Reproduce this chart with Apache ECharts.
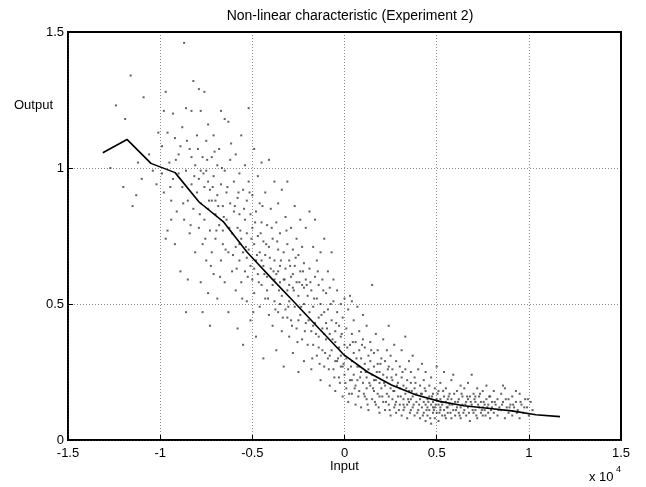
<!DOCTYPE html>
<html><head><meta charset="utf-8">
<script src="https://cdn.jsdelivr.net/npm/echarts@6/dist/echarts.min.js"></script>
<style>html,body{margin:0;padding:0;background:#fff}#c{width:646px;height:487px}</style>
</head><body><div id="c"></div>
<script>
// Axis ticks (x in units of 10^4)
var xTicks = [-1.5, -1, -0.5, 0, 0.5, 1, 1.5];
var yTicks = [0, 0.5, 1, 1.5];

// Non-linear characteristic curve (solid line)
var curveX = [-1.311,-1.180,-1.050,-0.919,-0.789,-0.658,-0.528,-0.397,-0.267,-0.136,-0.006,0.125,0.255,0.386,0.516,0.647,0.777,0.908,1.038,1.169];
var curveY = [1.056,1.105,1.017,0.983,0.875,0.803,0.690,0.595,0.503,0.408,0.315,0.250,0.202,0.166,0.142,0.126,0.117,0.107,0.093,0.086];

var samplesFarLeft = [[-1.24,1.23],[-1.16,1.34],[-1.19,1.18],[-1.09,1.26],[-1.2,0.93],[-1.13,0.9],[-1.15,0.86],[-1.10,0.96],[-1.02,0.94],[-1.06,1.05],[-1.01,1.13],[-1.04,0.99],[-1.27,1.0],[-1.12,1.02]];
var samplesLeft = [[-0.99,1.08],[-0.98,0.91],[-0.97,1.28],[-0.98,1.21],[-0.96,0.77],[-0.95,1.02],[-0.94,0.88],[-0.93,1.20],[-0.93,0.96],[-0.92,1.11],[-0.92,0.72],[-0.91,0.84],[-0.90,1.05],[-0.90,0.98],[-0.89,0.62],[-0.88,0.93],[-0.88,1.15],[-0.87,0.81],[-0.87,1.46],[-0.86,1.22],[-0.86,0.99],[-0.85,0.88],[-0.85,0.59],[-0.84,1.07],[-0.84,0.76],[-0.83,1.21],[-0.83,0.94],[-0.82,1.32],[-0.82,0.85],[-0.81,1.01],[-0.81,0.69],[-0.80,0.91],[-0.80,1.12],[-0.99,0.98],[-0.96,1.13],[-0.94,0.81],[-0.89,1.08],[-0.86,0.47],[-0.83,1.04],[-0.97,0.74],
[-0.79,1.29],[-0.79,0.78],[-0.79,0.96],[-0.78,1.21],[-0.78,0.58],[-0.78,0.87],[-0.77,1.04],[-0.77,0.72],[-0.77,0.47],[-0.76,0.93],[-0.76,1.28],[-0.76,0.81],[-0.75,1.10],[-0.75,0.66],[-0.75,0.99],[-0.74,0.85],[-0.74,1.16],[-0.74,0.54],[-0.73,0.92],[-0.73,0.77],[-0.73,0.42],[-0.72,1.04],[-0.72,0.69],[-0.72,0.88],[-0.71,0.97],[-0.71,0.61],[-0.71,1.12],[-0.70,0.83],[-0.70,0.74],[-0.69,1.01],[-0.69,0.90],[-0.69,0.52],[-0.68,0.79],[-0.68,1.07],[-0.67,1.21],[-0.67,0.66],[-0.67,0.94],[-0.66,0.86],[-0.66,0.72],[-0.65,1.18],[-0.65,0.58],[-0.65,0.99],[-0.64,0.81],[-0.64,0.91],[-0.63,1.17],[-0.63,0.69],[-0.63,0.47],[-0.62,0.87],[-0.62,1.03],[-0.61,0.76],[-0.61,0.62],[-0.60,0.95],[-0.60,0.84],[-0.78,0.99],[-0.74,0.95],[-0.70,0.88],[-0.66,0.77]];
var samplesMidLeft = [[-0.59,0.71],[-0.59,1.05],[-0.59,0.55],[-0.58,0.89],[-0.58,0.78],[-0.58,0.41],[-0.57,0.98],[-0.57,0.66],[-0.57,0.83],[-0.56,1.12],[-0.56,0.74],[-0.56,0.58],[-0.55,0.92],[-0.55,0.69],[-0.55,0.35],[-0.54,0.81],[-0.54,1.01],[-0.54,0.62],[-0.53,0.76],[-0.53,0.88],[-0.53,0.51],[-0.52,1.22],[-0.52,0.70],[-0.52,0.95],[-0.51,0.64],[-0.51,0.83],[-0.51,0.44],[-0.50,0.78],[-0.50,0.59],[-0.50,0.90],[-0.49,1.07],[-0.49,0.72],[-0.49,0.54],[-0.48,0.84],[-0.48,0.66],[-0.48,0.38],[-0.47,0.97],[-0.47,0.61],[-0.47,0.75],[-0.46,0.87],[-0.46,0.49],[-0.46,0.69],[-0.45,0.80],[-0.45,0.57],[-0.45,1.02],[-0.44,0.64],[-0.44,0.73],[-0.44,0.30],[-0.43,0.91],[-0.43,0.52],[-0.43,0.68],[-0.42,0.79],[-0.42,0.60],[-0.41,1.03],[-0.41,0.46],[-0.41,0.71],[-0.40,0.85],[-0.40,0.63],[-0.57,0.72],[-0.53,0.67],[-0.49,0.63],[-0.45,0.66],[-0.42,0.55],
[-0.39,0.57],[-0.39,0.74],[-0.39,0.42],[-0.38,0.95],[-0.38,0.66],[-0.38,0.51],[-0.37,0.80],[-0.37,0.61],[-0.37,0.33],[-0.36,0.70],[-0.36,0.87],[-0.36,0.47],[-0.35,0.58],[-0.35,0.76],[-0.35,0.64],[-0.34,0.40],[-0.34,0.92],[-0.34,0.53],[-0.33,0.69],[-0.33,0.59],[-0.33,0.27],[-0.32,0.82],[-0.32,0.48],[-0.32,0.63],[-0.31,0.72],[-0.31,0.55],[-0.31,0.95],[-0.30,0.38],[-0.30,0.66],[-0.30,0.51],[-0.29,0.78],[-0.29,0.60],[-0.29,0.44],[-0.28,0.70],[-0.28,0.32],[-0.28,0.56],[-0.27,0.86],[-0.27,0.49],[-0.27,0.64],[-0.26,0.58],[-0.26,0.74],[-0.26,0.41],[-0.25,0.53],[-0.25,0.68],[-0.25,0.25],[-0.24,0.62],[-0.24,0.46],[-0.24,0.81],[-0.23,0.37],[-0.23,0.57],[-0.23,0.71],[-0.22,0.50],[-0.22,0.65],[-0.22,0.29],[-0.21,0.43],[-0.21,0.59],[-0.21,0.78],[-0.20,0.53],[-0.20,0.35],[-0.38,0.59],[-0.35,0.50],[-0.31,0.45],[-0.28,0.61],[-0.25,0.44],[-0.22,0.56],[-0.36,0.62],[-0.30,0.57]];
var samplesCenter = [[-0.19,0.63],[-0.19,0.47],[-0.19,0.84],[-0.18,0.40],[-0.18,0.55],[-0.18,0.26],[-0.17,0.71],[-0.17,0.49],[-0.17,0.35],[-0.16,0.60],[-0.16,0.43],[-0.16,0.81],[-0.15,0.52],[-0.15,0.31],[-0.15,0.66],[-0.14,0.45],[-0.14,0.38],[-0.14,0.57],[-0.13,0.22],[-0.13,0.50],[-0.13,0.69],[-0.12,0.41],[-0.12,0.33],[-0.12,0.59],[-0.11,0.47],[-0.11,0.27],[-0.11,0.74],[-0.10,0.37],[-0.10,0.54],[-0.10,0.43],[-0.09,0.62],[-0.09,0.30],[-0.09,0.48],[-0.08,0.39],[-0.08,0.20],[-0.08,0.56],[-0.07,0.44],[-0.07,0.69],[-0.07,0.33],[-0.06,0.51],[-0.06,0.26],[-0.06,0.59],[-0.05,0.40],[-0.05,0.36],[-0.05,0.18],[-0.04,0.47],[-0.04,0.29],[-0.04,0.55],[-0.03,0.34],[-0.03,0.42],[-0.03,0.23],[-0.02,0.50],[-0.02,0.31],[-0.02,0.38],[-0.01,0.27],[-0.01,0.45],[-0.01,0.16],[0.00,0.35],[0.00,0.52],[0.00,0.24],[-0.17,0.42],[-0.14,0.34],[-0.11,0.39],[-0.08,0.31],[-0.05,0.29],[-0.02,0.27],
[0.01,0.30],[0.01,0.41],[0.01,0.19],[0.02,0.48],[0.02,0.26],[0.02,0.14],[0.03,0.35],[0.03,0.22],[0.03,0.53],[0.04,0.29],[0.04,0.39],[0.04,0.17],[0.05,0.24],[0.05,0.44],[0.05,0.32],[0.06,0.20],[0.06,0.36],[0.06,0.13],[0.07,0.27],[0.07,0.49],[0.07,0.22],[0.08,0.33],[0.08,0.18],[0.08,0.40],[0.09,0.25],[0.09,0.30],[0.09,0.12],[0.10,0.21],[0.10,0.37],[0.10,0.46],[0.11,0.28],[0.11,0.16],[0.11,0.34],[0.12,0.23],[0.12,0.42],[0.12,0.19],[0.13,0.31],[0.13,0.26],[0.13,0.11],[0.14,0.36],[0.14,0.20],[0.14,0.29],[0.15,0.15],[0.15,0.24],[0.15,0.57],[0.16,0.32],[0.16,0.18],[0.16,0.27],[0.17,0.22],[0.17,0.39],[0.17,0.13],[0.18,0.28],[0.18,0.17],[0.18,0.33],[0.19,0.21],[0.19,0.25],[0.19,0.10],[0.20,0.30],[0.20,0.19],[0.04,0.22],[0.08,0.27],[0.12,0.15],[0.16,0.22],[0.19,0.16],[0.04,0.51]];
var samplesMidRight = [[0.21,0.14],[0.21,0.24],[0.21,0.37],[0.22,0.20],[0.22,0.29],[0.22,0.11],[0.23,0.17],[0.23,0.33],[0.23,0.23],[0.24,0.13],[0.24,0.27],[0.24,0.42],[0.25,0.19],[0.25,0.09],[0.25,0.31],[0.26,0.22],[0.26,0.15],[0.26,0.26],[0.27,0.12],[0.27,0.35],[0.27,0.18],[0.28,0.24],[0.28,0.10],[0.28,0.29],[0.29,0.16],[0.29,0.21],[0.30,0.13],[0.30,0.27],[0.30,0.19],[0.31,0.09],[0.31,0.23],[0.31,0.33],[0.32,0.15],[0.32,0.20],[0.32,0.11],[0.33,0.26],[0.33,0.17],[0.33,0.38],[0.34,0.13],[0.34,0.22],[0.34,0.08],[0.35,0.18],[0.35,0.29],[0.35,0.14],[0.36,0.21],[0.36,0.11],[0.36,0.25],[0.37,0.16],[0.37,0.12],[0.37,0.31],[0.38,0.19],[0.38,0.09],[0.38,0.23],[0.39,0.14],[0.39,0.17],[0.40,0.11],[0.40,0.26],[0.24,0.16],[0.28,0.14],[0.32,0.13],[0.36,0.15],
[0.41,0.15],[0.41,0.20],[0.41,0.08],[0.42,0.12],[0.42,0.28],[0.42,0.17],[0.43,0.10],[0.43,0.22],[0.43,0.14],[0.44,0.07],[0.44,0.18],[0.44,0.25],[0.45,0.12],[0.45,0.15],[0.45,0.09],[0.46,0.20],[0.46,0.11],[0.46,0.16],[0.47,0.13],[0.47,0.06],[0.47,0.23],[0.48,0.17],[0.48,0.10],[0.48,0.14],[0.49,0.08],[0.49,0.19],[0.49,0.12],[0.50,0.15],[0.50,0.27],[0.50,0.10],[0.51,0.13],[0.51,0.07],[0.51,0.18],[0.52,0.11],[0.52,0.21],[0.52,0.15],[0.53,0.09],[0.53,0.13],[0.54,0.16],[0.54,0.25],[0.54,0.11],[0.55,0.08],[0.55,0.14],[0.55,0.19],[0.56,0.12],[0.56,0.10],[0.57,0.17],[0.57,0.13],[0.58,0.08],[0.58,0.22],[0.58,0.15],[0.59,0.11],[0.59,0.24],[0.60,0.14],[0.60,0.09],[0.44,0.13],[0.48,0.12],[0.52,0.12],[0.56,0.15]];
var samplesRight = [[0.61,0.18],[0.61,0.12],[0.62,0.10],[0.62,0.15],[0.63,0.20],[0.63,0.08],[0.64,0.13],[0.64,0.16],[0.65,0.11],[0.65,0.19],[0.66,0.09],[0.66,0.14],[0.67,0.12],[0.67,0.21],[0.68,0.16],[0.68,0.07],[0.69,0.13],[0.69,0.24],[0.70,0.10],[0.70,0.17],[0.71,0.14],[0.71,0.11],[0.72,0.19],[0.72,0.08],[0.73,0.12],[0.73,0.16],[0.74,0.10],[0.74,0.14],[0.75,0.18],[0.75,0.09],[0.76,0.13],[0.76,0.11],[0.77,0.15],[0.77,0.20],[0.78,0.10],[0.78,0.13],[0.79,0.08],[0.79,0.16],[0.80,0.12],[0.80,0.14],[0.63,0.12],[0.67,0.15],[0.71,0.16],[0.75,0.12],
[0.81,0.18],[0.81,0.10],[0.82,0.13],[0.83,0.15],[0.83,0.09],[0.84,0.12],[0.85,0.17],[0.85,0.11],[0.86,0.14],[0.87,0.08],[0.87,0.19],[0.88,0.12],[0.89,0.15],[0.89,0.10],[0.90,0.13],[0.91,0.16],[0.91,0.09],[0.92,0.12],[0.93,0.14],[0.94,0.11],[0.95,0.17],[0.95,0.08],[0.96,0.13],[0.97,0.10],[0.98,0.15],[0.99,0.12],[1.00,0.09],[1.01,0.14],[1.02,0.11],[0.86,0.20],[0.93,0.18]];
var samplesDense = [[-0.945,0.93],[-0.915,1.03],[-0.875,0.87],[-0.855,1.10],[-0.835,0.79],[-0.815,0.97],[-0.795,1.07],[-0.785,0.83],[-0.765,0.98],[-0.755,0.74],[-0.745,1.03],[-0.735,0.88],[-0.725,0.64],[-0.715,0.93],[-0.705,1.06],[-0.695,0.77],[-0.685,0.86],[-0.675,0.60],[-0.665,1.00],[-0.655,0.82],[-0.645,0.70],[-0.635,0.93],[-0.625,0.78],[-0.615,1.09],[-0.605,0.68],
[-0.595,0.86],[-0.585,0.63],[-0.575,0.91],[-0.565,0.77],[-0.555,0.52],[-0.545,0.85],[-0.535,0.71],[-0.525,0.60],[-0.515,0.91],[-0.505,0.74],[-0.495,0.47],[-0.485,0.80],[-0.475,0.68],[-0.465,0.58],[-0.455,0.76],[-0.445,0.86],[-0.435,0.61],[-0.425,0.72],[-0.415,0.52],[-0.405,0.67],[-0.395,0.78],[-0.385,0.62],[-0.375,0.48],[-0.365,0.73],[-0.355,0.55],[-0.345,0.66],[-0.335,0.45],[-0.325,0.59],[-0.315,0.77],[-0.305,0.49],[-0.295,0.64],[-0.285,0.42],[-0.275,0.55],[-0.265,0.67],[-0.255,0.36],[-0.245,0.58],[-0.235,0.49],[-0.225,0.62],[-0.215,0.40],[-0.205,0.57],
[-0.195,0.44],[-0.185,0.58],[-0.175,0.30],[-0.165,0.52],[-0.155,0.39],[-0.145,0.62],[-0.135,0.28],[-0.125,0.46],[-0.115,0.55],[-0.105,0.32],[-0.095,0.41],[-0.085,0.26],[-0.075,0.50],[-0.065,0.37],[-0.055,0.23],[-0.045,0.43],[-0.035,0.30],[-0.025,0.21],[-0.015,0.39],[-0.005,0.28],[0.005,0.21],[0.015,0.34],[0.025,0.17],[0.035,0.27],[0.045,0.36],[0.055,0.19],[0.065,0.30],[0.075,0.16],[0.085,0.23],[0.095,0.35],[0.105,0.17],[0.115,0.25],[0.125,0.13],[0.135,0.21],[0.145,0.33],[0.155,0.19],[0.165,0.14],[0.175,0.25],[0.185,0.12],[0.195,0.28],
[0.205,0.16],[0.215,0.21],[0.225,0.14],[0.235,0.26],[0.245,0.11],[0.255,0.23],[0.265,0.18],[0.275,0.13],[0.285,0.20],[0.295,0.11],[0.305,0.16],[0.315,0.25],[0.325,0.12],[0.335,0.19],[0.345,0.15],[0.355,0.10],[0.365,0.18],[0.375,0.13],[0.385,0.21],[0.395,0.10],[0.405,0.13],[0.415,0.17],[0.425,0.09],[0.435,0.19],[0.445,0.11],[0.455,0.14],[0.465,0.08],[0.475,0.16],[0.485,0.11],[0.495,0.13],[0.505,0.17],[0.515,0.10],[0.525,0.14],[0.535,0.18],[0.545,0.09],[0.555,0.12],[0.565,0.16],[0.575,0.10],[0.585,0.13],[0.595,0.17],
[0.605,0.11],[0.615,0.14],[0.625,0.09],[0.635,0.17],[0.645,0.10],[0.655,0.13],[0.665,0.16],[0.675,0.10],[0.685,0.14],[0.695,0.11],[0.705,0.15],[0.715,0.09],[0.725,0.13],[0.735,0.17],[0.745,0.11],[0.755,0.14],[0.765,0.09],[0.775,0.12],[0.785,0.16],[0.795,0.11],[0.815,0.14],[0.835,0.11],[0.855,0.13],[0.875,0.15],[0.895,0.12],[0.915,0.13],[0.935,0.10],[0.955,0.14],[0.975,0.12],[0.995,0.15]];

var FONT = '"Liberation Sans", Arial, sans-serif';
var FS = 13;
var samples = samplesFarLeft.concat(samplesLeft, samplesMidLeft, samplesCenter, samplesMidRight, samplesRight, samplesDense);
var curve = curveX.map(function (x, i) { return [x, curveY[i]]; });
var xMin = xTicks[0], xMax = xTicks[xTicks.length - 1];
var yMin = yTicks[0], yMax = yTicks[yTicks.length - 1];
// top and right edges of the plot box, in data space
var frameTopRight = [[xMin, yMax], [xMax, yMax], [xMax, yMin]];

var chart = echarts.init(document.getElementById('c'), null, {renderer: 'canvas'});
var gridLine = {show: true, lineStyle: {color: '#8a8a8a', type: [1, 2], width: 1}};
function mainAxis(pos, ticks, margin) {
  return {
    type: 'value', min: ticks[0], max: ticks[ticks.length - 1], interval: 0.5, position: pos,
    axisLine: {show: true, onZero: false, lineStyle: {color: '#000', width: 1.5}},
    axisTick: {show: true, inside: true, length: 5, lineStyle: {color: '#000'}},
    axisLabel: {color: '#000', fontFamily: FONT, fontSize: FS, margin: margin},
    splitLine: gridLine
  };
}
chart.setOption({
  animation: false,
  backgroundColor: '#fff',
  title: {
    text: 'Non-linear characteristic (Experiment 2)',
    left: 345, top: 4, textAlign: 'center',
    textStyle: {fontFamily: FONT, fontSize: 14, fontWeight: 'normal', color: '#000'}
  },
  grid: {left: 68, right: 25, top: 32, bottom: 47, containLabel: false,
    show: true, borderColor: '#000', borderWidth: 2},
  xAxis: mainAxis('bottom', xTicks, 7),
  yAxis: mainAxis('left', yTicks, 4),
  graphic: [
    {type: 'text', left: 14, top: 99, style: {text: 'Output', font: FS + 'px ' + FONT, fill: '#000'}},
    {type: 'text', left: 330, top: 460, style: {text: 'Input', font: FS + 'px ' + FONT, fill: '#000'}},
    {type: 'text', left: 589, top: 471, style: {text: 'x 10', font: FS + 'px ' + FONT, fill: '#000'}},
    {type: 'text', left: 616, top: 465, style: {text: '4', font: '9px ' + FONT, fill: '#000'}}
  ],
  series: [
    {type: 'scatter', data: samples, symbol: 'rect', symbolSize: 2,
      itemStyle: {color: '#3a3a3a'}, z: 2},
    {type: 'line', data: curve, showSymbol: false,
      lineStyle: {color: '#000', width: 1.6}, z: 3},
    {type: 'line', data: frameTopRight, showSymbol: false, clip: false,
      lineStyle: {color: '#000', width: 2}, z: 4}
  ]
});
</script></body></html>
